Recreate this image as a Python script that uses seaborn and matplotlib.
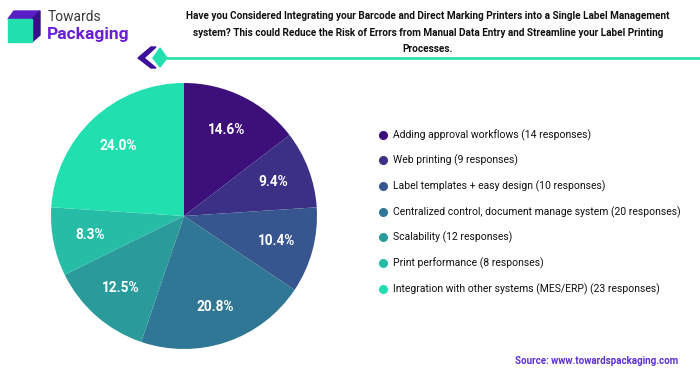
import matplotlib
matplotlib.use("Agg")
import matplotlib.pyplot as plt
from matplotlib.patches import Polygon
from matplotlib.lines import Line2D
import seaborn as sns

categories = [
    "Adding approval workflows (14 responses)",
    "Web printing (9 responses)",
    "Label templates + easy design (10 responses)",
    "Centralized control, document manage system (20 responses)",
    "Scalability (12 responses)",
    "Print performance (8 responses)",
    "Integration with other systems (MES/ERP) (23 responses)",
]
responses = [14, 9, 10, 20, 12, 8, 23]
colors_hex = ["#3D0F7B", "#3B2F86", "#37568F", "#2F7794", "#2B9A9A", "#27BCA6", "#22DFB0"]

title = ("Have you Considered Integrating your Barcode and Direct Marking Printers into a Single Label Management\n"
         "system? This could Reduce the Risk of Errors from Manual Data Entry and Streamline your Label Printing\n"
         "Processes.")
source = "Source: www.towardspackaging.com"

sns.set_theme(style="white")
plt.rcParams['font.family'] = ['Roboto', 'DejaVu Sans']

W, H = 700, 375
fig = plt.figure(figsize=(7, 3.75), dpi=100)
fig.patch.set_facecolor("white")

palette = sns.color_palette(colors_hex)

# pie axes: center (184,216), radius 133 px
cx, cy, r = 184, 216, 133
ax = fig.add_axes([(cx - r) / W, (H - cy - r) / H, 2 * r / W, 2 * r / H])
wedges, texts, autotexts = ax.pie(
    responses, colors=palette, startangle=90, counterclock=False,
    autopct="%1.1f%%", pctdistance=0.72,
    wedgeprops=dict(linewidth=0),
    textprops=dict(color="white", fontsize=9.8, fontweight="bold"),
)
ax.set_aspect("equal")
ax.set_xlim(-1, 1)
ax.set_ylim(-1, 1)
ax.axis("off")

# legend
handles = [Line2D([0], [0], marker="o", linestyle="", markersize=5.5,
                  markerfacecolor=c, markeredgecolor=c) for c in palette]
fig.legend(handles, categories, loc="upper left",
           bbox_to_anchor=(372 / W, 1 - 124 / H), bbox_transform=fig.transFigure,
           frameon=False, fontsize=7.5, labelspacing=1.36, handletextpad=0.3,
           handlelength=1.2, borderpad=0, labelcolor="#111111")

# overlay for decorations
ov = fig.add_axes([0, 0, 1, 1], zorder=-1)
ov.set_xlim(0, W)
ov.set_ylim(H, 0)
ov.axis("off")

# logo cube
ov.add_patch(Polygon([(8, 19), (14, 11), (40, 11), (32, 19)], closed=True, color="#5A1FC4"))
ov.add_patch(Polygon([(32, 19), (40, 11), (40, 35), (32, 42)], closed=True, color="#3A0E8A"))
ov.add_patch(Polygon([(8, 19), (32, 19), (32, 42), (8, 42)], closed=True, color="#22DFB0"))
ov.text(48, 17, "Towards", fontsize=10, color="#3A3A3A", va="center", ha="left")
ov.text(47, 34, "Packaging", fontsize=12.5, color="#6A1FD4", fontweight="bold", va="center", ha="left")

# header line + chevron
ov.plot([162, 700], [58, 58], color="#2EE0B0", linewidth=2, solid_capstyle="butt")
ov.add_patch(Polygon([(138, 58), (151, 47), (156, 47), (144, 58), (156, 68), (151, 68)], closed=True, color="#3D0F9A"))
ov.add_patch(Polygon([(153, 58), (160, 48), (167, 58), (160, 67)], closed=True, color="#22DFB0"))

# title
fig.text(428 / W, 1 - 32.5 / H, title, ha="center", va="center", fontsize=7.2,
         fontweight="bold", color="#111111", linespacing=1.8)

# source
fig.text(597 / W, 1 - 361 / H, source, ha="center", va="center", fontsize=7,
         fontweight="bold", color="#5B2FD1")

fig.savefig("out.png", dpi=100, facecolor="white")
